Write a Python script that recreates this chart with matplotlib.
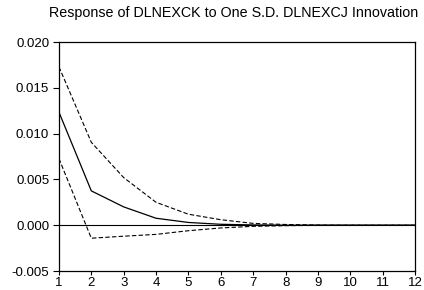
import matplotlib
matplotlib.use("Agg")
import matplotlib.pyplot as plt

periods = [1, 2, 3, 4, 5, 6, 7, 8, 9, 10, 11, 12]
response = [0.01235, 0.00375, 0.0020, 0.00076, 0.0003, 0.0001, 0.00003, 0.0, 0.0, 0.0, 0.0, 0.0]
upper = [0.01730, 0.00905, 0.0052, 0.0025, 0.0012, 0.0006, 0.0002, 0.00008, 0.00002, 0.0, 0.0, 0.0]
lower = [0.00728, -0.00142, -0.00120, -0.00100, -0.00060, -0.00030, -0.00012, -0.00005, -0.00001, 0.0, 0.0, 0.0]
yticks = [-0.005, 0.0, 0.005, 0.010, 0.015, 0.020]

plt.rcParams['font.family'] = ['Liberation Sans', 'DejaVu Sans']

fig = plt.figure(figsize=(4.24, 2.90), dpi=100)
ax = fig.add_axes([0.139, 0.0655, 0.840, 0.7895])

ax.axhline(0, color='black', lw=0.8)
ax.plot(periods, response, color='black', lw=0.9)
ax.plot(periods, upper, color='black', lw=0.8, ls=(0, (4, 2)))
ax.plot(periods, lower, color='black', lw=0.8, ls=(0, (4, 2)))

ax.set_xlim(1, 12)
ax.set_ylim(-0.005, 0.020)
ax.set_xticks(periods)
ax.set_yticks(yticks)
ax.set_yticklabels(['%.3f' % v for v in yticks])
ax.tick_params(direction='out', width=0.8, labelsize=9.5)
ax.tick_params(axis='y', length=4, pad=3)
ax.tick_params(axis='x', length=3, pad=1)
for s in ax.spines.values():
    s.set_linewidth(0.9)

# title sits a bit left of the axes centre in the reference
fig.text(0.55, 0.955, 'Response of DLNEXCK to One S.D. DLNEXCJ Innovation',
         fontsize=10.3, ha='center', va='center')

fig.savefig('out.png', dpi=100)
